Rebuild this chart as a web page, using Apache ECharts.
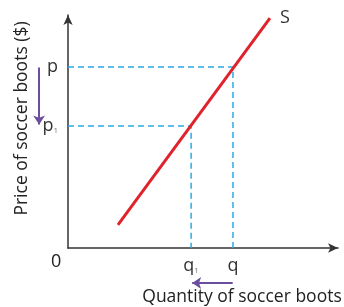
<!DOCTYPE html>
<html>
<head>
<meta charset="utf-8">
<script src="https://cdn.jsdelivr.net/npm/echarts@6/dist/echarts.min.js"></script>
<style>
html, body { margin: 0; padding: 0; background: #fff; }
#chart { width: 344px; height: 307px; }
</style>
</head>
<body>
<div id="chart"></div>
<script>
// supply curve end points (quantity, price)
var supplyLine = [[18.5, 9.9], [74.8, 98.7]];
// p and p1
var prices = [77.7, 52.4];
// q and q1
var quantities = [61.1, 45.6];
var priceLabels = ['p', 'p{s|1}'];
var quantityLabels = ['q', 'q{s|1}'];
// shift arrows (purple)
var priceArrow = [[-10.7, 77.5], [-10.7, 53]];
var quantityArrow = [[61, -15], [46, -15]];

var font = 'Open Sans';
var myChart = echarts.init(document.getElementById('chart'));

function guide(i) {
	return {
		type : 'line',
		data : [[0, prices[i]], [quantities[i], prices[i]], [quantities[i], 0]],
		symbol : 'none',
		silent : true,
		lineStyle : { color : '#29abe2', width : 1.5, type : [6, 4] },
		z : 1
	};
}

var option = {
	animation : false,
	grid : { left : 68, right : 6, top : 15, bottom : 59, containLabel : false, outerBoundsMode : 'none' },
	xAxis : {
		type : 'value',
		min : 0,
		max : 100,
		name : 'Quantity of soccer boots',
		nameLocation : 'middle',
		nameGap : 40,
		nameTextStyle : { fontFamily : font, fontSize : 17.5, color : '#222', padding : [0, 0, 0, 78] },
		axisLine : { show : true, symbol : ['none', 'arrow'], symbolSize : [7, 10], lineStyle : { color : '#333', width : 1.5 } },
		axisTick : { show : false },
		splitLine : { show : false },
		axisLabel : {
			customValues : quantities,
			margin : 9,
			fontFamily : font,
			fontSize : 18,
			color : '#333',
			formatter : function(v) { return quantityLabels[quantities.indexOf(v)]; },
			rich : { s : { fontSize : 8, verticalAlign : 'bottom', padding : [10, 0, 0, 0], fontFamily : font, color : '#777' } }
		}
	},
	yAxis : {
		type : 'value',
		min : 0,
		max : 100,
		name : 'Price of soccer boots ($)',
		nameLocation : 'middle',
		nameRotate : 90,
		nameGap : 29,
		nameTextStyle : { fontFamily : font, fontSize : 17.5, color : '#222', padding : [0, 0, 0, 26] },
		axisLine : { show : true, symbol : ['none', 'arrow'], symbolSize : [7, 10], lineStyle : { color : '#333', width : 1.5 } },
		axisTick : { show : false },
		splitLine : { show : false },
		axisLabel : {
			customValues : prices,
			margin : 10,
			fontFamily : font,
			fontSize : 18,
			color : '#333',
			formatter : function(v) { return priceLabels[prices.indexOf(v)]; },
			rich : { s : { fontSize : 8, verticalAlign : 'bottom', padding : [10, 0, 0, 0], fontFamily : font, color : '#777' } }
		}
	},
	graphic : [{
		type : 'text',
		left : 51,
		top : 253,
		style : { text : '0', fontFamily : font, fontSize : 18, fill : '#222' }
	}],
	series : [guide(0), guide(1), {
		type : 'line',
		data : supplyLine,
		symbol : 'none',
		lineStyle : { color : '#e0232b', width : 3 },
		endLabel : { show : true, formatter : 'S', fontFamily : font, fontSize : 18, color : '#333', offset : [2, 0] },
		z : 3
	}, {
		type : 'lines',
		coordinateSystem : 'cartesian2d',
		clip : false,
		silent : true,
		symbol : ['none', 'arrow'],
		symbolSize : 9,
		lineStyle : { color : '#6b4f9e', width : 2, opacity : 1 },
		data : [{ coords : priceArrow }, { coords : quantityArrow }]
	}]
};

myChart.setOption(option);
</script>
</body>
</html>
